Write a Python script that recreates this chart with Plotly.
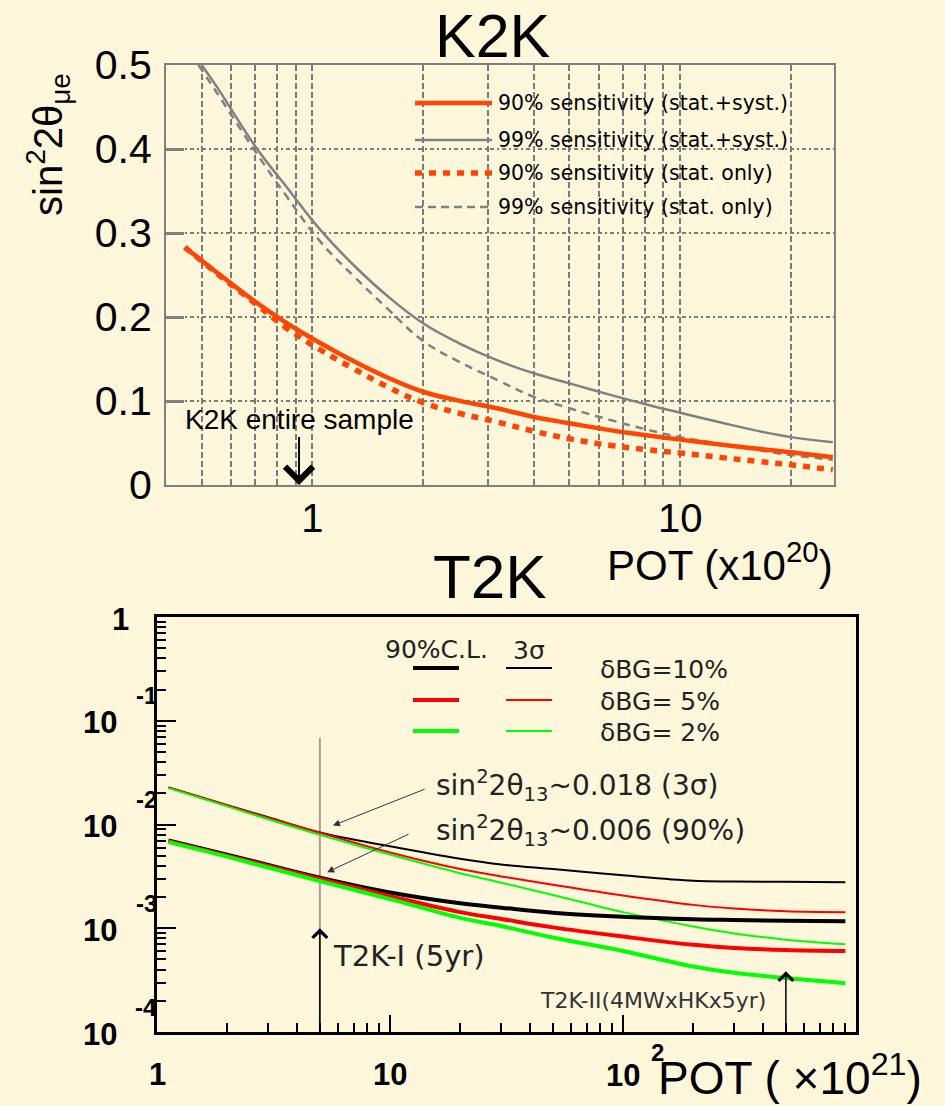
import math
import plotly.graph_objects as go

W, H = 945, 1106
CREAM = "#FFF7DC"
ARIAL = "Liberation Sans, Arial, sans-serif"
WIDE = "DejaVu Sans, sans-serif"
ORANGE = "#FF4500"
GRAY = "#808080"

# ---------------- K2K : sin^2 2theta_mue sensitivity vs POT (x1e20) ----------------
k2k_pot = [0.45, 0.55, 0.7, 0.85, 1.05, 1.3, 1.6, 2, 2.5, 3.2, 4, 5, 6.5, 8, 10, 13, 16, 20, 26]
k2k_90_syst = [0.283, 0.253, 0.218, 0.193, 0.169, 0.147, 0.128, 0.111, 0.1005, 0.091, 0.081, 0.0735, 0.065,
               0.0595, 0.054, 0.048, 0.0435, 0.039, 0.033]
k2k_90_stat = [0.283, 0.252, 0.216, 0.187, 0.161, 0.138, 0.117, 0.098, 0.0855, 0.0748, 0.064, 0.055, 0.047,
               0.0424, 0.038, 0.0326, 0.0284, 0.024, 0.018]

k2k_99_syst_pot = [0.5, 0.55, 0.7, 0.85, 1.05, 1.3, 1.6, 2, 2.5, 3.2, 4, 5, 6.5, 8, 10, 13, 16, 20, 26]
k2k_99_syst = [0.500, 0.474, 0.403, 0.355, 0.304, 0.261, 0.225, 0.1925, 0.169, 0.148, 0.133, 0.121, 0.107,
               0.0965, 0.086, 0.074, 0.065, 0.057, 0.051]
k2k_99_stat_pot = [0.49, 0.55, 0.7, 0.85, 1.05, 1.3, 1.6, 2, 2.5, 3.2, 4, 5, 6.5, 8, 10, 13, 16, 20, 26]
k2k_99_stat = [0.500, 0.467, 0.397, 0.344, 0.290, 0.248, 0.210, 0.1715, 0.147, 0.1245, 0.105, 0.0914, 0.0771,
               0.0667, 0.057, 0.0485, 0.042, 0.0357, 0.030]

k2k_label_pot = [1, 10]
k2k_grid_pot = [0.5, 0.6, 0.7, 0.8, 0.9, 2, 3, 4, 5, 6, 7, 8, 9, 20]
k2k_yticks = [0, 0.1, 0.2, 0.3, 0.4, 0.5]
k2k_entire_sample = 0.92

k2k_legend = [
    "90% sensitivity (stat.+syst.)",
    "99% sensitivity (stat.+syst.)",
    "90% sensitivity (stat. only)",
    "99% sensitivity (stat. only)",
]

# ---------------- T2K : sin^2 2theta_13 sensitivity vs POT (x1e21) ----------------
t2k_pot = [1.12, 2, 3, 5, 10, 20, 30, 50, 100, 200, 300, 500, 900]
t2k_3s_bg10 = [0.0227, 0.01531, 0.01175, 0.00838, 0.00617, 0.00468, 0.00412, 0.00372, 0.00324, 0.00287,
               0.00282, 0.00280, 0.00277]
t2k_3s_bg5 = [0.0227, 0.01531, 0.01161, 0.00832, 0.00537, 0.00372, 0.00316, 0.00263, 0.00207, 0.00168,
              0.00155, 0.00146, 0.00143]
t2k_3s_bg2 = [0.0224, 0.01496, 0.01122, 0.00794, 0.00513, 0.00339, 0.00275, 0.00209, 0.00143, 0.00104,
              0.000891, 0.000776, 0.000700]
t2k_90_bg10 = [0.00702, 0.00513, 0.00407, 0.00307, 0.00221, 0.00174, 0.00158, 0.00141, 0.00129, 0.00122,
               0.00120, 0.00118, 0.00117]
t2k_90_bg5 = [0.00692, 0.00501, 0.00398, 0.00299, 0.00204, 0.00143, 0.00123, 0.00102, 0.000832, 0.000692,
              0.000646, 0.000617, 0.000603]
t2k_90_bg2 = [0.00676, 0.00490, 0.00385, 0.00285, 0.00191, 0.00126, 0.00105, 0.000813, 0.000603, 0.000427,
              0.000372, 0.000331, 0.000295]

t2k_x_major = [1, 10, 100]
t2k_x_minor = [2, 3, 4, 5, 6, 7, 8, 9, 20, 30, 40, 50, 60, 70, 80, 90, 200, 300, 400, 500, 600, 700, 800, 900]
t2k_y_major = [1e-4, 1e-3, 1e-2, 1e-1, 1]
t2k_y_minor = [m * 10.0 ** e for e in (-4, -3, -2, -1) for m in (2, 3, 4, 5, 6, 7, 8, 9)]

t2k_phase1_pot = 5          # T2K-I (5yr)
t2k_phase1_line_top = 0.0687
t2k_phase1_head = 1e-3
t2k_phase2_pot = 500        # T2K-II
t2k_phase2_head = 3.86e-4

t2k_bg_labels = ["δBG=10%", "δBG= 5%", "δBG= 2%"]
t2k_colors = ["#000000", "#FF0000", "#00FF00"]


def px(x):
    return x / W


def py(y):
    return 1 - y / H


def note(text, x, y, font, xanchor="center", yanchor="middle", xref="paper", yref="paper", **kw):
    return dict(text=text, x=x, y=y, xref=xref, yref=yref, xanchor=xanchor, yanchor=yanchor,
                showarrow=False, font=font, **kw)


fig = go.Figure()

# K2K curves
fig.add_trace(go.Scatter(x=k2k_99_stat_pot, y=k2k_99_stat, mode="lines",
                         line=dict(color=GRAY, width=2.5, dash="8px,6px", shape="spline", smoothing=1.2),
                         xaxis="x", yaxis="y", hoverinfo="skip"))
fig.add_trace(go.Scatter(x=k2k_99_syst_pot, y=k2k_99_syst, mode="lines",
                         line=dict(color=GRAY, width=2.5, shape="spline", smoothing=1.2),
                         xaxis="x", yaxis="y", hoverinfo="skip"))
fig.add_trace(go.Scatter(x=k2k_pot, y=k2k_90_stat, mode="lines",
                         line=dict(color=ORANGE, width=5.5, dash="7px,7px", shape="spline", smoothing=1.2),
                         xaxis="x", yaxis="y", hoverinfo="skip"))
fig.add_trace(go.Scatter(x=k2k_pot, y=k2k_90_syst, mode="lines",
                         line=dict(color=ORANGE, width=4.5, shape="spline", smoothing=1.2),
                         xaxis="x", yaxis="y", hoverinfo="skip"))

# T2K: phase-I marker line
fig.add_trace(go.Scatter(x=[t2k_phase1_pot, t2k_phase1_pot], y=[t2k_phase1_line_top, t2k_y_major[0]],
                         mode="lines", line=dict(color="#A8A090", width=2),
                         xaxis="x2", yaxis="y2", hoverinfo="skip"))

# T2K curves: thin = 3 sigma, thick = 90% C.L.
for series, color in zip([t2k_3s_bg10, t2k_3s_bg5, t2k_3s_bg2], t2k_colors):
    fig.add_trace(go.Scatter(x=t2k_pot, y=series, mode="lines", line=dict(color=color, width=2, shape="spline"),
                             xaxis="x2", yaxis="y2", hoverinfo="skip"))
for series, color in zip([t2k_90_bg10, t2k_90_bg5, t2k_90_bg2], t2k_colors):
    fig.add_trace(go.Scatter(x=t2k_pot, y=series, mode="lines", line=dict(color=color, width=4, shape="spline"),
                             xaxis="x2", yaxis="y2", hoverinfo="skip"))

annotations = []
shapes = []

# titles
annotations.append(note("K2K", px(492), py(36), dict(family=ARIAL, size=61, color="black")))
annotations.append(note("T2K", px(490), py(576), dict(family=ARIAL, size=62, color="black")))

# K2K axis titles
annotations.append(note("sin<sup>2</sup>2θ<sub>μe</sub>", px(48), py(145),
                        dict(family=ARIAL, size=40, color="black"), textangle=-90))
annotations.append(note("POT (x10<sup>20</sup>)", px(605), py(562),
                        dict(family=ARIAL, size=42, color="black"), xanchor="left"))

# K2K entire sample marker (label with arrow down to the axis)
annotations.append(dict(text="K2K entire sample", x=math.log10(k2k_entire_sample), y=0, xref="x", yref="y",
                        ax=math.log10(k2k_entire_sample), ay=0.0774, axref="x", ayref="y",
                        xanchor="center", yanchor="middle",
                        font=dict(family=ARIAL, size=28, color="black"),
                        showarrow=True, arrowhead=4, arrowsize=2.7, arrowwidth=2, arrowcolor="black"))

# K2K legend
legend_rows = [
    (103, ORANGE, 4.5, "solid"),
    (140, GRAY, 2.5, "solid"),
    (173, ORANGE, 5.5, "7px,7px"),
    (207, GRAY, 2.5, "8px,5px"),
]
for (ly, color, lw, dash), label in zip(legend_rows, k2k_legend):
    shapes.append(dict(type="line", xref="paper", yref="paper", x0=px(415), x1=px(492), y0=py(ly), y1=py(ly),
                       line=dict(color=color, width=lw, dash=dash)))
    annotations.append(note(label, px(496), py(ly), dict(family=WIDE, size=20.5, color="#000000"), xanchor="left"))

# T2K tick labels (exponent set above the mantissa)
LBL = dict(family=ARIAL, size=31, color="black", weight="bold")
EXP = dict(family=ARIAL, size=24, color="black", weight="bold")
annotations.append(note("1", px(120), 0, LBL, yref="y2", yshift=-2))
for v in t2k_y_major[:-1]:
    e = round(math.log10(v))
    annotations.append(note("10", px(100), e, LBL, yref="y2", yshift=-2))
    annotations.append(note(str(e), px(146), e, EXP, yref="y2", yshift=25))
annotations.append(note("1", 0, py(1074), LBL, xref="x2"))
annotations.append(note("10", 1, py(1074), LBL, xref="x2"))
annotations.append(note("10", 2, py(1075), LBL, xref="x2"))
annotations.append(note("2", 2, py(1052), EXP, xref="x2", xshift=34))

annotations.append(note("POT ( ×10<sup>21</sup>)", px(656), 0,
                        dict(family=ARIAL, size=46, color="black"), xanchor="left", yanchor="bottom"))

# T2K legend
TL = dict(family=WIDE, size=25, color="#222222")
annotations.append(note("90%C.L.", px(436), py(649), TL))
annotations.append(note("3σ", px(529), py(650), TL))
for ly, color, label in zip([668, 700, 731], t2k_colors, t2k_bg_labels):
    shapes.append(dict(type="line", xref="paper", yref="paper", x0=px(413), x1=px(459), y0=py(ly), y1=py(ly),
                       line=dict(color=color, width=4)))
    shapes.append(dict(type="line", xref="paper", yref="paper", x0=px(506), x1=px(552), y0=py(ly), y1=py(ly),
                       line=dict(color=color, width=2)))
    annotations.append(note(label, px(598), py(ly + 1), TL, xanchor="left"))

# T2K sensitivity notes with arrows
SN = dict(family=WIDE, size=28, color="#222222")
annotations.append(note("sin<sup>2</sup>2θ<sub>13</sub>~0.018 (3σ)", px(434), py(785), SN, xanchor="left"))
annotations.append(note("sin<sup>2</sup>2θ<sub>13</sub>~0.006 (90%)", px(434), py(830), SN, xanchor="left"))
annotations.append(dict(text="", x=0.755, y=-2.01, xref="x2", yref="y2", ax=1.155, ay=-1.654, axref="x2", ayref="y2",
                        showarrow=True, arrowhead=2, arrowsize=1.4, arrowwidth=1, arrowcolor="#333333"))
annotations.append(dict(text="", x=0.73, y=-2.46, xref="x2", yref="y2", ax=1.086, ay=-2.087, axref="x2", ayref="y2",
                        showarrow=True, arrowhead=2, arrowsize=1.4, arrowwidth=1, arrowcolor="#333333"))

# T2K phase markers
annotations.append(dict(text="", x=math.log10(t2k_phase1_pot), y=math.log10(t2k_phase1_head), xref="x2", yref="y2",
                        ax=math.log10(t2k_phase1_pot), ay=-4, axref="x2", ayref="y2",
                        showarrow=True, arrowhead=4, arrowsize=1.9, arrowwidth=1.5, arrowcolor="black"))
annotations.append(note("T2K-I (5yr)", px(331), py(956), dict(family=WIDE, size=29, color="#222222"), xanchor="left"))
annotations.append(dict(text="", x=math.log10(t2k_phase2_pot), y=math.log10(t2k_phase2_head), xref="x2", yref="y2",
                        ax=math.log10(t2k_phase2_pot), ay=-4, axref="x2", ayref="y2",
                        showarrow=True, arrowhead=4, arrowsize=1.9, arrowwidth=1.5, arrowcolor="black"))
annotations.append(note("T2K-II(4MWxHKx5yr)", px(653), py(1000), dict(family=WIDE, size=22, color="#333333")))

fig.update_layout(
    template="none",
    width=W, height=H,
    margin=dict(l=0, r=0, t=0, b=0, pad=0),
    paper_bgcolor=CREAM, plot_bgcolor=CREAM,
    showlegend=False,
    xaxis=dict(domain=[px(166), px(834)], anchor="y", type="log", range=[math.log10(0.4), math.log10(26.2)],
               tickmode="array", tickvals=k2k_label_pot, ticktext=[str(v) for v in k2k_label_pot], ticks="",
               showgrid=True, gridcolor="#7A7A7A", gridwidth=1.5, griddash="6px,3px",
               minor=dict(tickmode="array", tickvals=k2k_grid_pot, ticks="", showgrid=True,
                          gridcolor="#7A7A7A", gridwidth=1.5, griddash="6px,3px"),
               showline=True, linecolor=GRAY, linewidth=2, mirror=True, zeroline=False, automargin=False,
               tickfont=dict(family=ARIAL, size=40, color="black"), ticklabelstandoff=-3),
    yaxis=dict(domain=[py(485), py(65)], anchor="x", range=[0, 0.5],
               tickmode="array", tickvals=k2k_yticks, ticktext=[("%g" % v) for v in k2k_yticks],
               ticks="inside", ticklen=18, tickwidth=2.5, tickcolor=GRAY,
               showgrid=True, gridcolor="#7A7A7A", gridwidth=1.8, griddash="4px,3px,2px,3px",
               showline=True, linecolor=GRAY, linewidth=2, mirror=True, zeroline=False, automargin=False,
               tickfont=dict(family=ARIAL, size=41, color="black"), ticklabelstandoff=4),
    xaxis2=dict(domain=[px(157), px(856)], anchor="y2", type="log", range=[0, 3],
                tickmode="array", tickvals=t2k_x_major, showticklabels=False,
                ticks="inside", ticklen=17, tickwidth=2, tickcolor="black",
                minor=dict(tickmode="array", tickvals=t2k_x_minor, ticks="inside", ticklen=9, tickwidth=1.5,
                           tickcolor="black", showgrid=False),
                showgrid=False, showline=True, linecolor="black", linewidth=2.5, mirror=True, zeroline=False,
                automargin=False),
    yaxis2=dict(domain=[py(1032), py(617)], anchor="x2", type="log", range=[-4, 0],
                tickmode="array", tickvals=t2k_y_major, showticklabels=False,
                ticks="inside", ticklen=19, tickwidth=2, tickcolor="black",
                minor=dict(tickmode="array", tickvals=t2k_y_minor, ticks="inside", ticklen=9, tickwidth=1.5,
                           tickcolor="black", showgrid=False),
                showgrid=False, showline=True, linecolor="black", linewidth=2.5, mirror=True, zeroline=False,
                automargin=False),
    annotations=annotations,
    shapes=shapes,
)

fig.write_html("out.html")
